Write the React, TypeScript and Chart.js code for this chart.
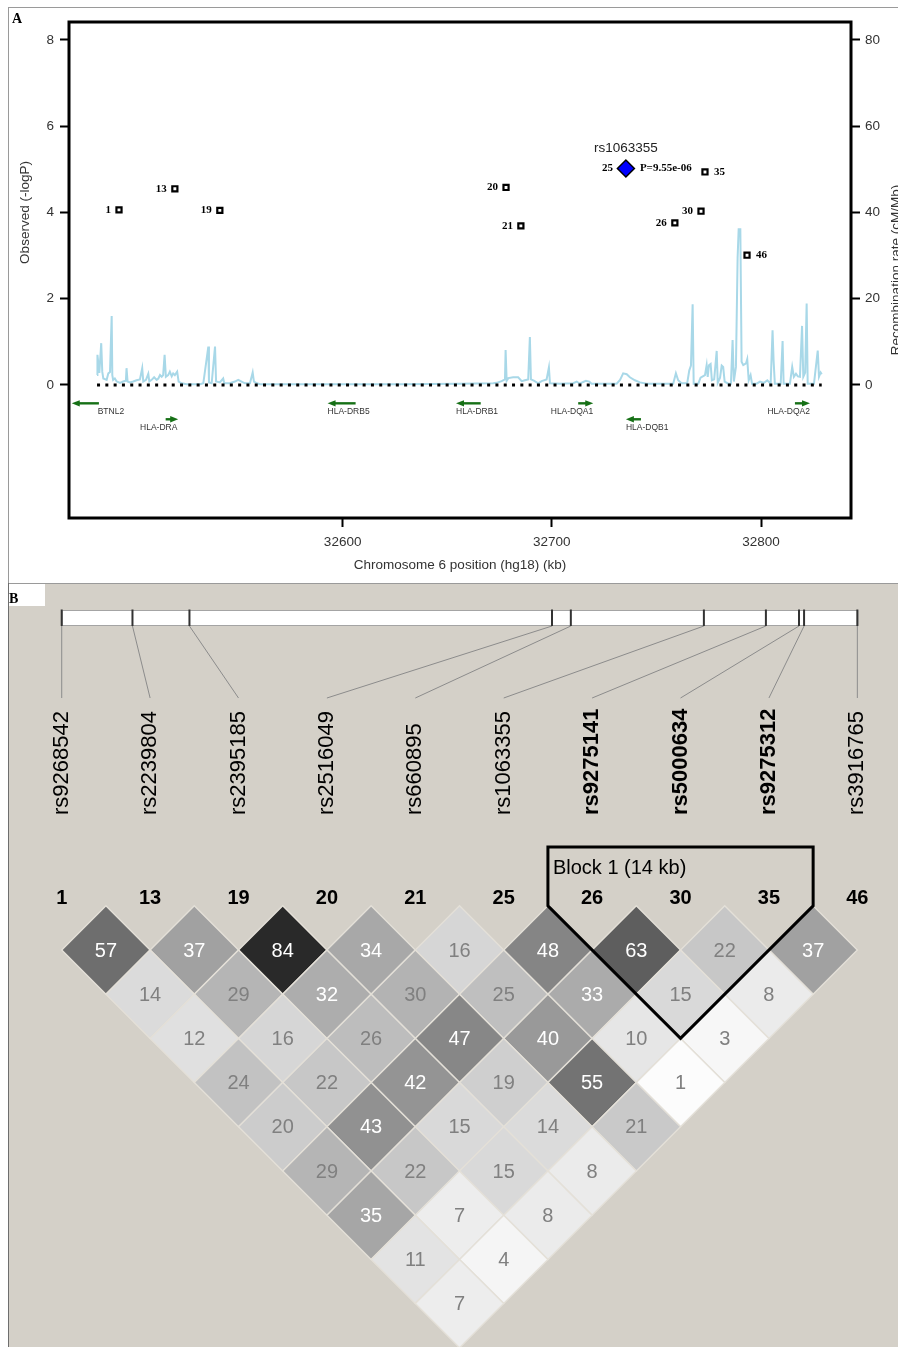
import React, { useEffect, useRef } from 'react';
import { Chart, registerables } from 'chart.js';

Chart.register(...registerables);

// ---------------- data ----------------
const snpIds = [1, 13, 19, 20, 21, 25, 26, 30, 35, 46];
const snpNames = ['rs9268542', 'rs2239804', 'rs2395185', 'rs2516049', 'rs660895', 'rs1063355', 'rs9275141', 'rs5000634', 'rs9275312', 'rs3916765'];
const snpPositionKb = [32493.1, 32519.8, 32541.3, 32678.1, 32685.2, 32735.4, 32758.8, 32771.3, 32773.2, 32793.3];
const snpLogP = [4.06, 4.55, 4.05, 4.58, 3.69, 5.02, 3.76, 4.03, 4.94, 3.01];
const leadSnpIndex = 5;
const leadPValueText = 'P=9.55e-06';
const rightLabelledIds = [35, 46];

// recombination rate (cM/Mb) along the region: [position kb, rate]
const recombination: [number, number][] = [
  [32482.6, 2.3], [32482.7, 5.5], [32482.9, 7.0], [32483.7, 2.8], [32484.6, 9.7], [32485.1, 3.1], [32485.6, 1.5],
  [32487.2, 1.2], [32488.0, 2.7], [32488.8, 3.0], [32489.6, 16.0], [32489.9, 2.3], [32490.3, 1.2], [32491.1, 1.5],
  [32492.0, 0.8], [32493.6, 0.5], [32495.1, 0.8], [32496.4, 1.0], [32496.7, 3.9], [32497.2, 0.8], [32498.3, 0.6],
  [32499.9, 0.8], [32501.5, 1.1], [32503.1, 1.3], [32504.2, 3.9], [32504.7, 0.8], [32506.0, 1.2], [32507.1, 2.6],
  [32507.6, 0.8], [32508.7, 1.2], [32509.9, 1.8], [32511.1, 1.2], [32511.9, 1.5], [32512.7, 2.3], [32513.5, 1.9],
  [32514.2, 2.3], [32514.9, 7.0], [32515.5, 1.9], [32516.6, 2.3], [32517.4, 3.1], [32518.3, 2.0], [32519.0, 2.7],
  [32519.8, 2.3], [32520.9, 3.1], [32521.6, 0.8], [32523.0, 0.4], [32525.4, 0.2], [32531.8, 0.2], [32533.4, 0.4],
  [32535.8, 8.9], [32536.1, 0.6], [32537.4, 0.4], [32539.0, 8.9], [32539.5, 0.8], [32541.3, 0.6], [32542.9, 1.5],
  [32543.4, 0.4], [32546.1, 0.4], [32548.5, 0.8], [32550.1, 1.2], [32551.7, 0.8], [32553.3, 0.4], [32555.7, 0.4],
  [32557.0, 2.9], [32557.6, 0.8], [32559.0, 0.4], [32560.5, 0.2], [32579.6, 0.2], [32627.4, 0.2], [32656.1, 0.3],
  [32672.0, 0.4], [32673.6, 0.5], [32676.0, 0.9], [32677.6, 1.3], [32677.9, 8.1], [32678.4, 1.0], [32679.2, 1.6],
  [32681.5, 1.8], [32683.9, 1.8], [32685.6, 0.9], [32687.1, 1.1], [32688.7, 1.3], [32689.5, 11.1], [32690.0, 1.3],
  [32691.4, 1.0], [32693.5, 0.4], [32695.1, 0.9], [32697.5, 1.3], [32698.6, 4.1], [32699.1, 0.4], [32703.9, 0.3],
  [32710.2, 0.4], [32711.9, 0.8], [32713.4, 0.3], [32715.0, 0.7], [32716.3, 1.0], [32717.9, 0.8], [32719.0, 0.3],
  [32731.0, 0.3], [32732.6, 1.2], [32734.1, 2.7], [32735.8, 2.5], [32737.3, 1.8], [32739.7, 1.1], [32742.1, 0.6],
  [32745.3, 0.3], [32758.0, 0.3], [32759.3, 2.7], [32760.4, 1.1], [32762.0, 0.4], [32764.7, 0.4], [32765.7, 3.4],
  [32766.5, 4.5], [32767.3, 18.7], [32767.8, 0.3], [32770.0, 0.3], [32771.1, 1.7], [32773.2, 2.3], [32774.0, 4.6],
  [32774.5, 1.9], [32775.1, 4.6], [32775.9, 4.9], [32776.5, 1.1], [32777.6, 1.3], [32778.8, 7.9], [32779.3, 0.5],
  [32780.4, 1.7], [32781.2, 4.5], [32781.9, 4.2], [32782.6, 0.8], [32784.3, 0.3], [32785.6, 0.3], [32786.4, 10.4],
  [32787.0, 0.8], [32788.0, 4.2], [32788.8, 29.5], [32789.3, 36.1], [32790.1, 36.1], [32790.7, 5.4], [32791.5, 4.6],
  [32792.8, 5.0], [32793.4, 6.0], [32794.1, 1.1], [32795.0, 2.3], [32795.7, 0.3], [32797.9, 0.3], [32799.5, 0.8],
  [32801.4, 0.5], [32803.0, 1.1], [32804.6, 0.3], [32805.5, 12.7], [32806.0, 5.6], [32806.6, 0.3], [32809.4, 0.3],
  [32810.3, 10.2], [32810.8, 0.3], [32813.8, 0.3], [32814.9, 4.2], [32815.7, 1.9], [32816.7, 2.6], [32817.6, 2.0],
  [32818.6, 1.9], [32819.6, 13.7], [32820.2, 1.9], [32821.1, 2.9], [32821.8, 18.9], [32822.3, 0.3], [32825.3, 0.3],
  [32827.1, 8.0], [32827.7, 1.9], [32828.5, 2.9], [32829.0, 2.5],
];

const geneNames = ['BTNL2', 'HLA-DRA', 'HLA-DRB5', 'HLA-DRB1', 'HLA-DQA1', 'HLA-DQB1', 'HLA-DQA2'];
const geneStartKb = [32470.5, 32515.4, 32592.8, 32654.2, 32712.6, 32735.4, 32816.2];
const geneEndKb = [32483.5, 32521.4, 32606.2, 32666.0, 32719.8, 32742.6, 32823.4];
const geneStrand = [-1, 1, -1, -1, 1, -1, 1];
const geneTrack = [0, 1, 0, 0, 0, 1, 0];
const geneLabelKb = [32482.9, 32521.0, 32592.8, 32654.2, 32719.8, 32735.4, 32823.4];
const geneTrackLogP = [-0.425, -0.795];

const positionTicksKb = [32600, 32700, 32800];
const logPTicks = [0, 2, 4, 6, 8];
const recombTicks = [0, 20, 40, 60, 80];

// pairwise LD values (x100), grouped by marker distance (1 = adjacent)
const ldByDistance = [
  [57, 37, 84, 34, 16, 48, 63, 22, 37],
  [14, 29, 32, 30, 25, 33, 15, 8],
  [12, 16, 26, 47, 40, 10, 3],
  [24, 22, 42, 19, 55, 1],
  [20, 43, 15, 14, 21],
  [29, 22, 15, 8],
  [35, 7, 8],
  [11, 4],
  [7],
];
const blockFirstIndex = 6;
const blockLastIndex = 8;
const blockTitle = 'Block 1';

// ---------------- styling ----------------
const SANS = '"Liberation Sans", Arial, Helvetica, sans-serif';
const SERIF = '"Liberation Serif", "Times New Roman", Times, serif';
const GENE_GREEN = '#167016';
const W = 898;
const HA = 583;
const HB = 764;

const panelAPlugin = {
  id: 'panelA',
  afterDatasetsDraw(chart: any) {
    const { ctx, scales } = chart;
    const xs = scales.x;
    const ys = scales.y;
    ctx.save();
    // genes
    for (let i = 0; i < geneNames.length; i++) {
      const x1 = xs.getPixelForValue(geneStartKb[i]);
      const x2 = xs.getPixelForValue(geneEndKb[i]);
      const py = ys.getPixelForValue(geneTrackLogP[geneTrack[i]]);
      const dir = geneStrand[i];
      const head = dir > 0 ? x2 : x1;
      const tail = dir > 0 ? x1 : x2;
      ctx.strokeStyle = GENE_GREEN;
      ctx.fillStyle = GENE_GREEN;
      ctx.lineWidth = 2.4;
      ctx.beginPath();
      ctx.moveTo(tail, py);
      ctx.lineTo(head - dir * 5, py);
      ctx.stroke();
      ctx.beginPath();
      ctx.moveTo(head, py);
      ctx.lineTo(head - dir * 8, py - 3.2);
      ctx.lineTo(head - dir * 8, py + 3.2);
      ctx.closePath();
      ctx.fill();
      ctx.fillStyle = '#333';
      ctx.font = `8.5px ${SANS}`;
      ctx.textBaseline = 'middle';
      ctx.textAlign = dir > 0 ? 'right' : 'left';
      ctx.fillText(geneNames[i], xs.getPixelForValue(geneLabelKb[i]), py + 8.5);
    }
    // SNP labels
    const meta = chart.getDatasetMeta(0);
    meta.data.forEach((pt: any, i: number) => {
      const id = snpIds[i];
      ctx.fillStyle = '#000';
      ctx.font = `bold 11px ${SERIF}`;
      ctx.textBaseline = 'middle';
      if (i === leadSnpIndex) {
        ctx.textAlign = 'right';
        ctx.fillText(String(id), pt.x - 13, pt.y);
        ctx.textAlign = 'left';
        ctx.fillText(leadPValueText, pt.x + 14, pt.y);
        ctx.textAlign = 'center';
        ctx.fillStyle = '#222';
        ctx.font = `13.5px ${SANS}`;
        ctx.fillText(snpNames[i], pt.x, pt.y - 20.5);
      } else if (rightLabelledIds.includes(id)) {
        ctx.textAlign = 'left';
        ctx.fillText(String(id), pt.x + 9, pt.y);
      } else {
        ctx.textAlign = 'right';
        ctx.fillText(String(id), pt.x - 8, pt.y);
      }
    });
    ctx.restore();
  },
  afterDraw(chart: any) {
    const { ctx, chartArea, scales } = chart;
    ctx.save();
    // plot frame
    ctx.strokeStyle = '#000';
    ctx.lineWidth = 3;
    ctx.strokeRect(chartArea.left, chartArea.top, chartArea.right - chartArea.left, chartArea.bottom - chartArea.top);
    // axis titles
    ctx.fillStyle = '#333';
    ctx.font = `13.5px ${SANS}`;
    ctx.textAlign = 'center';
    ctx.textBaseline = 'middle';
    ctx.save();
    ctx.translate(25.5, scales.y.getPixelForValue(4));
    ctx.rotate(-Math.PI / 2);
    ctx.fillText('Observed (-logP)', 0, 0);
    ctx.restore();
    ctx.save();
    ctx.translate(896, (chartArea.top + chartArea.bottom) / 2);
    ctx.rotate(-Math.PI / 2);
    ctx.fillText('Recombination rate (cM/Mb)', 0, 0);
    ctx.restore();
    // panel frame and letter
    ctx.fillStyle = '#9a9a9a';
    ctx.fillRect(8, 7, W - 8, 1);
    ctx.fillRect(8, 7, 1, HA - 7);
    ctx.fillStyle = '#000';
    ctx.font = `bold 14px ${SERIF}`;
    ctx.textAlign = 'left';
    ctx.textBaseline = 'alphabetic';
    ctx.fillText('A', 12, 23);
    ctx.restore();
  },
};

const panelBPlugin = {
  id: 'panelB',
  beforeDraw(chart: any) {
    const { ctx, scales } = chart;
    const xs = scales.x;
    ctx.save();
    ctx.fillStyle = '#d4d0c8';
    ctx.fillRect(9, 0, W - 9, HB);
    ctx.fillStyle = '#9a9a9a';
    ctx.fillRect(8, 0, W - 8, 1);
    ctx.fillStyle = '#6e6e6e';
    ctx.fillRect(8, 0, 1, HB);
    ctx.fillStyle = '#fff';
    ctx.fillRect(9, 1, 36, 22);
    ctx.fillStyle = '#000';
    ctx.font = `bold 14px ${SERIF}`;
    ctx.textAlign = 'left';
    ctx.textBaseline = 'alphabetic';
    ctx.fillText('B', 9, 20);

    const n = snpNames.length;
    const kb0 = snpPositionKb[0];
    const kbN = snpPositionKb[n - 1];
    const left = xs.getPixelForValue(0);
    const right = xs.getPixelForValue(n - 1);
    // physical position bar
    ctx.fillStyle = '#fff';
    ctx.fillRect(left, 28, right - left, 14);
    ctx.strokeStyle = '#a4a4a4';
    ctx.lineWidth = 1;
    ctx.strokeRect(left + 0.5, 27.5, right - left, 15);
    for (let i = 0; i < n; i++) {
      const tx = xs.getPixelForValue(((snpPositionKb[i] - kb0) / (kbN - kb0)) * (n - 1));
      const lx = xs.getPixelForValue(i);
      ctx.strokeStyle = '#8c8c8c';
      ctx.lineWidth = 1;
      ctx.beginPath();
      ctx.moveTo(tx, 43);
      ctx.lineTo(lx, 115);
      ctx.stroke();
      ctx.strokeStyle = '#333';
      ctx.lineWidth = 2;
      ctx.beginPath();
      ctx.moveTo(tx, 26.5);
      ctx.lineTo(tx, 43);
      ctx.stroke();
      const inBlock = i >= blockFirstIndex && i <= blockLastIndex;
      ctx.save();
      ctx.translate(lx, 232);
      ctx.rotate(-Math.PI / 2);
      ctx.fillStyle = '#000';
      ctx.font = `${inBlock ? 'bold ' : ''}22px ${SANS}`;
      ctx.textAlign = 'left';
      ctx.textBaseline = 'middle';
      ctx.fillText(snpNames[i], 0, 0);
      ctx.restore();
      ctx.fillStyle = '#000';
      ctx.font = `bold 20px ${SANS}`;
      ctx.textAlign = 'center';
      ctx.textBaseline = 'middle';
      ctx.fillText(String(snpIds[i]), lx, 315);
    }
    ctx.restore();
  },
  afterDatasetsDraw(chart: any) {
    const { ctx, scales } = chart;
    const xs = scales.x;
    const ys = scales.y;
    const meta = chart.getDatasetMeta(0);
    const data = chart.data.datasets[0].data;
    ctx.save();
    ctx.font = `20px ${SANS}`;
    ctx.textAlign = 'center';
    ctx.textBaseline = 'middle';
    meta.data.forEach((pt: any, i: number) => {
      const v = data[i].v;
      ctx.fillStyle = v > 30 ? '#ffffff' : '#808080';
      ctx.fillText(String(v), pt.x, pt.y + 1);
    });
    // haplotype block outline
    const topY = 264;
    const lx = xs.getPixelForValue(blockFirstIndex - 0.5);
    const rx = xs.getPixelForValue(blockLastIndex + 0.5);
    const vy = ys.getPixelForValue(-1);
    const bx = xs.getPixelForValue((blockFirstIndex + blockLastIndex) / 2);
    const by = ys.getPixelForValue(blockLastIndex - blockFirstIndex);
    ctx.strokeStyle = '#000';
    ctx.lineWidth = 3;
    ctx.lineJoin = 'miter';
    ctx.beginPath();
    ctx.moveTo(lx, vy);
    ctx.lineTo(lx, topY);
    ctx.lineTo(rx, topY);
    ctx.lineTo(rx, vy);
    ctx.lineTo(bx, by);
    ctx.closePath();
    ctx.stroke();
    const sizeKb = Math.round(snpPositionKb[blockLastIndex] - snpPositionKb[blockFirstIndex]);
    ctx.fillStyle = '#000';
    ctx.font = `20px ${SANS}`;
    ctx.textAlign = 'left';
    ctx.fillText(`${blockTitle} (${sizeKb} kb)`, lx + 5, 285);
    ctx.restore();
  },
};

function buildPanelA(canvas: HTMLCanvasElement) {
  const tickFont = { family: SANS, size: 13.5 };
  return new Chart(canvas, {
    type: 'scatter',
    data: {
      datasets: [
        {
          label: 'SNPs',
          data: snpPositionKb.map((x, i) => ({ x, y: snpLogP[i] })),
          pointStyle: snpIds.map((_, i) => (i === leadSnpIndex ? 'rectRot' : 'rect')) as any,
          pointRadius: snpIds.map((_, i) => (i === leadSnpIndex ? 8.5 : 3.6)),
          pointBackgroundColor: snpIds.map((_, i) => (i === leadSnpIndex ? '#0000ff' : '#ffffff')),
          pointBorderColor: '#000',
          pointBorderWidth: snpIds.map((_, i) => (i === leadSnpIndex ? 1.5 : 2.2)),
          showLine: false,
          yAxisID: 'y',
          order: 0,
        } as any,
        {
          label: 'baseline',
          data: [
            { x: recombination[0][0], y: 0 },
            { x: recombination[recombination.length - 1][0], y: 0 },
          ],
          showLine: true,
          borderColor: '#000',
          borderWidth: 3,
          borderDash: [3, 5.3],
          borderCapStyle: 'butt',
          pointRadius: 0,
          yAxisID: 'y',
          order: 1,
        } as any,
        {
          label: 'recombination',
          data: recombination.map(([x, r]) => ({ x, y: r })),
          showLine: true,
          borderColor: '#a8d8e8',
          borderWidth: 2,
          pointRadius: 0,
          tension: 0,
          yAxisID: 'y2',
          order: 2,
        } as any,
      ],
    },
    options: {
      animation: false,
      responsive: false,
      devicePixelRatio: 1,
      events: [],
      layout: { padding: { top: 22, left: 0, right: 0, bottom: 0 } },
      plugins: { legend: { display: false }, tooltip: { enabled: false } },
      scales: {
        x: {
          type: 'linear',
          position: 'bottom',
          min: 32469.2,
          max: 32843.0,
          afterFit: (s: any) => { s.height = 65; },
          afterBuildTicks: (s: any) => { s.ticks = positionTicksKb.map((value) => ({ value })); },
          ticks: { font: tickFont, color: '#333', padding: 7, maxRotation: 0, autoSkip: false, callback: (v: any) => String(v) },
          grid: { drawOnChartArea: false, tickLength: 9, tickWidth: 2, tickColor: '#000' },
          border: { display: false },
          title: { display: true, text: 'Chromosome 6 position (hg18) (kb)', font: { family: SANS, size: 13.5 }, color: '#333', padding: { top: 0, bottom: 10 } },
        },
        y: {
          type: 'linear',
          position: 'left',
          min: -3.084,
          max: 8.417,
          afterFit: (s: any) => { s.width = 69; },
          afterBuildTicks: (s: any) => { s.ticks = logPTicks.map((value) => ({ value })); },
          ticks: { font: tickFont, color: '#333', padding: 6, callback: (v: any) => String(v) },
          grid: { drawOnChartArea: false, tickLength: 9, tickWidth: 2, tickColor: '#000' },
          border: { display: false },
        },
        y2: {
          type: 'linear',
          position: 'right',
          min: -30.84,
          max: 84.17,
          afterFit: (s: any) => { s.width = 47; },
          afterBuildTicks: (s: any) => { s.ticks = recombTicks.map((value) => ({ value })); },
          ticks: { font: tickFont, color: '#333', padding: 5, callback: (v: any) => String(v) },
          grid: { drawOnChartArea: false, tickLength: 9, tickWidth: 2, tickColor: '#000' },
          border: { display: false },
        },
      },
    } as any,
    plugins: [panelAPlugin],
  });
}

function buildPanelB(canvas: HTMLCanvasElement) {
  const cells: { x: number; y: number; v: number }[] = [];
  ldByDistance.forEach((row, r) => {
    const d = r + 1;
    row.forEach((v, i) => {
      cells.push({ x: i + d / 2, y: r, v });
    });
  });
  const shade = (v: number) => {
    const g = Math.round(255 * (1 - v / 100));
    return `rgb(${g},${g},${g})`;
  };
  return new Chart(canvas, {
    type: 'scatter',
    data: {
      datasets: [
        {
          label: 'LD',
          data: cells,
          pointStyle: 'rectRot',
          pointRadius: (ctx: any) => {
            const s = ctx.chart.scales.x;
            return Math.abs(s.getPixelForValue(0.5) - s.getPixelForValue(0));
          },
          pointBackgroundColor: (ctx: any) => shade(ctx.raw ? ctx.raw.v : 0),
          pointBorderColor: '#e4e0d8',
          pointBorderWidth: 1.4,
        } as any,
      ],
    },
    options: {
      animation: false,
      responsive: false,
      devicePixelRatio: 1,
      events: [],
      layout: { padding: 0 },
      plugins: { legend: { display: false }, tooltip: { enabled: false } },
      scales: {
        x: { type: 'linear', display: false, min: -0.698, max: 9.46 },
        y: { type: 'linear', display: false, reverse: true, min: -8.303, max: 8.982 },
      },
    } as any,
    plugins: [panelBPlugin],
  });
}

export default function App() {
  const refA = useRef<HTMLCanvasElement>(null);
  const refB = useRef<HTMLCanvasElement>(null);
  useEffect(() => {
    const prev = document.body.style.margin;
    document.body.style.margin = '0';
    const a = buildPanelA(refA.current as HTMLCanvasElement);
    const b = buildPanelB(refB.current as HTMLCanvasElement);
    return () => {
      a.destroy();
      b.destroy();
      document.body.style.margin = prev;
    };
  }, []);
  return (
    <div style={{ position: 'relative', width: W, height: HA + HB, overflow: 'hidden', background: '#fff' }}>
      <canvas ref={refA} width={W} height={HA} style={{ position: 'absolute', left: 0, top: 0, width: W, height: HA }} />
      <canvas ref={refB} width={W} height={HB} style={{ position: 'absolute', left: 0, top: HA, width: W, height: HB }} />
    </div>
  );
}
